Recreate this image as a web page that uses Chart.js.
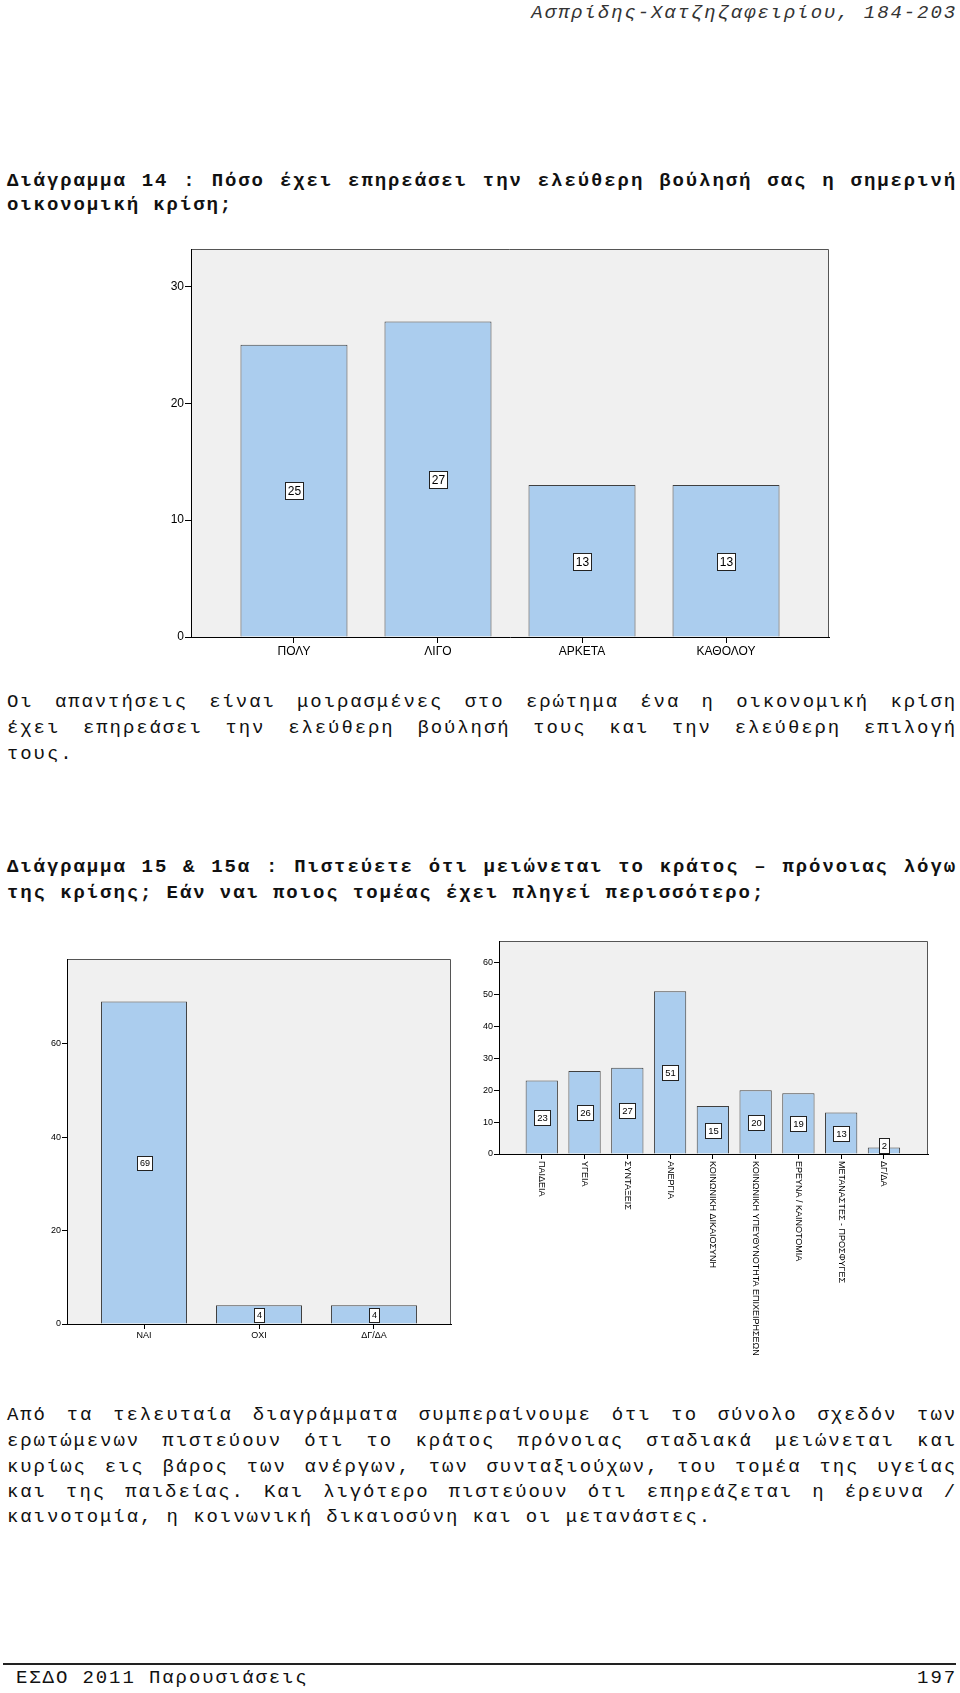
<!DOCTYPE html>
<html>
<head>
<meta charset="utf-8">
<script src="https://cdn.jsdelivr.net/npm/chart.js@4.4.1/dist/chart.umd.min.js"></script>
<style>
html, body { margin: 0; padding: 0; background: #fff; }
#page { position: relative; width: 960px; height: 1693px; overflow: hidden; }
.ln {
    position: absolute; left: 7px; width: 950px; height: 26px; line-height: 26px;
    font-family: "Liberation Mono", monospace; font-size: 19px; letter-spacing: 1.9px;
    color: #111; white-space: nowrap;
}
.j { text-align: justify; text-align-last: justify; white-space: normal; }
.b { font-weight: bold; }
canvas { position: absolute; }
</style>
</head>
<body>
<div id="page">
    <div class="ln" style="top:0;left:auto;right:3px;width:auto;font-style:italic;color:#333">Ασπρίδης-Χατζηζαφειρίου, 184-203</div>

    <div class="ln b j" style="top:168px">Διάγραμμα 14 : Πόσο έχει επηρεάσει την ελεύθερη βούλησή σας η σημερινή</div>
    <div class="ln b" style="top:192px">οικονομική κρίση;</div>

    <canvas id="c14" width="700" height="430" style="left:140px;top:240px"></canvas>

    <div class="ln j" style="top:689px">Οι απαντήσεις είναι μοιρασμένες στο ερώτημα ένα η οικονομική κρίση</div>
    <div class="ln j" style="top:715px">έχει επηρεάσει την ελεύθερη βούλησή τους και την ελεύθερη επιλογή</div>
    <div class="ln" style="top:741px">τους.</div>

    <div class="ln b j" style="top:854px">Διάγραμμα 15 &amp; 15α : Πιστεύετε ότι μειώνεται το κράτος – πρόνοιας λόγω</div>
    <div class="ln b" style="top:880px">της κρίσης; Εάν ναι ποιος τομέας έχει πληγεί περισσότερο;</div>

    <canvas id="c15" width="440" height="410" style="left:20px;top:950px"></canvas>
    <canvas id="c15a" width="490" height="440" style="left:462px;top:930px"></canvas>

    <div class="ln j" style="top:1402px">Από τα τελευταία διαγράμματα συμπεραίνουμε ότι το σύνολο σχεδόν των</div>
    <div class="ln j" style="top:1428px">ερωτώμενων πιστεύουν ότι το κράτος πρόνοιας σταδιακά μειώνεται και</div>
    <div class="ln j" style="top:1454px">κυρίως εις βάρος των ανέργων, των συνταξιούχων, του τομέα της υγείας</div>
    <div class="ln j" style="top:1479px">και της παιδείας. Και λιγότερο πιστεύουν ότι επηρεάζεται η έρευνα /</div>
    <div class="ln" style="top:1504px">καινοτομία, η κοινωνική δικαιοσύνη και οι μετανάστες.</div>

    <div style="position:absolute;left:3px;top:1663px;width:953px;height:2px;background:#222"></div>
    <div class="ln" style="top:1665px;left:16px">ΕΣΔΟ 2011 Παρουσιάσεις</div>
    <div class="ln" style="top:1665px;left:auto;right:3px;width:auto">197</div>
</div>
<script>
// Διάγραμμα 14
const cats14 = ['ΠΟΛΥ', 'ΛΙΓΟ', 'ΑΡΚΕΤΑ', 'ΚΑΘΟΛΟΥ'];
const vals14 = [25, 27, 13, 13];
const ticks14 = [0, 10, 20, 30];

// Διάγραμμα 15
const cats15 = ['ΝΑΙ', 'ΟΧΙ', 'ΔΓ/ΔΑ'];
const vals15 = [69, 4, 4];
const ticks15 = [0, 20, 40, 60];

// Διάγραμμα 15α
const cats15a = ['ΠΑΙΔΕΙΑ', 'ΥΓΕΙΑ', 'ΣΥΝΤΑΞΕΙΣ', 'ΑΝΕΡΓΙΑ', 'ΚΟΙΝΩΝΙΚΗ ΔΙΚΑΙΟΣΥΝΗ',
    'ΚΟΙΝΩΝΙΚΗ ΥΠΕΥΘΥΝΟΤΗΤΑ ΕΠΙΧΕΙΡΗΣΕΩΝ', 'ΕΡΕΥΝΑ / ΚΑΙΝΟΤΟΜΙΑ', 'ΜΕΤΑΝΑΣΤΕΣ - ΠΡΟΣΦΥΓΕΣ', 'ΔΓ/ΔΑ'];
const vals15a = [23, 26, 27, 51, 15, 20, 19, 13, 2];
const ticks15a = [0, 10, 20, 30, 40, 50, 60];

const FONT = '"Liberation Sans", Arial, sans-serif';
Chart.defaults.font.family = FONT;
Chart.defaults.color = '#000';

// grey plot box like SPSS
const framePlugin = {
    id: 'frame',
    beforeDraw(chart) {
        const { ctx, chartArea: a } = chart;
        ctx.save();
        ctx.fillStyle = '#f0f0f0';
        ctx.fillRect(a.left, a.top, a.right - a.left, a.bottom - a.top);
        ctx.strokeStyle = '#555';
        ctx.lineWidth = 1;
        ctx.beginPath();
        ctx.moveTo(a.left, a.top + 0.5);
        ctx.lineTo(a.right - 0.5, a.top + 0.5);
        ctx.lineTo(a.right - 0.5, a.bottom);
        ctx.stroke();
        ctx.restore();
    }
};

// white boxed count in the middle of each bar
const valueBoxes = {
    id: 'valueBoxes',
    afterDatasetsDraw(chart, args, opts) {
        const { ctx } = chart;
        const y = chart.scales.y;
        const zero = y.getPixelForValue(0);
        const data = chart.data.datasets[0].data;
        ctx.save();
        ctx.font = opts.size + 'px ' + FONT;
        ctx.textAlign = 'center';
        ctx.textBaseline = 'middle';
        ctx.lineWidth = 1;
        chart.getDatasetMeta(0).data.forEach((bar, i) => {
            const v = data[i].y;
            const txt = String(v);
            const w = Math.round(ctx.measureText(txt).width) + 5;
            const h = Math.round(opts.size) + 5;
            const cy = Math.min(y.getPixelForValue(v / 2), zero - h / 2 - 1);
            const left = Math.round(bar.x - w / 2) + 0.5;
            const top = Math.round(cy - h / 2) + 0.5;
            ctx.fillStyle = '#fff';
            ctx.fillRect(left, top, w, h);
            ctx.strokeStyle = '#222';
            ctx.strokeRect(left, top, w, h);
            ctx.fillStyle = '#000';
            ctx.fillText(txt, left + w / 2, top + h / 2 + 0.5);
        });
        ctx.restore();
    }
};

// category names written top-to-bottom under the axis
const verticalLabels = {
    id: 'verticalLabels',
    afterDraw(chart, args, opts) {
        if (!opts.labels) return;
        const { ctx } = chart;
        const x = chart.scales.x;
        ctx.save();
        ctx.font = opts.size + 'px ' + FONT;
        ctx.fillStyle = '#000';
        ctx.textAlign = 'left';
        ctx.textBaseline = 'middle';
        opts.labels.forEach((lab, i) => {
            ctx.save();
            ctx.translate(x.getPixelForValue(i), x.top + opts.offset);
            ctx.rotate(Math.PI / 2);
            ctx.fillText(lab, 0, 0);
            ctx.restore();
        });
        ctx.restore();
    }
};

function barChart(id, cats, vals, ticks, s) {
    return new Chart(document.getElementById(id), {
        type: 'bar',
        data: {
            datasets: [{
                data: vals.map((v, i) => ({ x: i, y: v })),
                backgroundColor: '#abcdee',
                borderColor: '#404040',
                borderWidth: 1,
                categoryPercentage: s.bar,
                barPercentage: 1
            }]
        },
        options: {
            responsive: false,
            animation: false,
            devicePixelRatio: 1,
            layout: { padding: { top: s.padTop, right: s.padRight, left: 0, bottom: 0 } },
            plugins: {
                legend: { display: false },
                tooltip: { enabled: false },
                valueBoxes: { size: s.valSize },
                verticalLabels: s.vertical ? { labels: cats, size: s.font, offset: 7 } : {}
            },
            scales: {
                x: {
                    type: 'linear',
                    bounds: 'data',
                    offset: false,
                    min: s.xmin,
                    max: s.xmax,
                    afterBuildTicks: sc => { sc.ticks = cats.map((c, i) => ({ value: i })); },
                    afterFit: sc => { sc.height = s.xh; },
                    grid: { offset: false, drawOnChartArea: false, drawTicks: true, tickLength: s.tick, color: '#000' },
                    border: { color: '#000', width: 1 },
                    ticks: {
                        display: !s.vertical,
                        callback: v => cats[v],
                        font: { size: s.font },
                        color: '#000',
                        padding: 1,
                        maxRotation: 0,
                        autoSkip: false
                    }
                },
                y: {
                    bounds: 'data',
                    min: 0,
                    max: s.ymax,
                    afterBuildTicks: sc => { sc.ticks = ticks.map(v => ({ value: v })); },
                    afterFit: sc => { sc.width = s.yw; },
                    grid: { drawOnChartArea: false, drawTicks: true, tickLength: s.tick, color: '#000' },
                    border: { color: '#000', width: 1 },
                    ticks: { font: { size: s.font }, color: '#000', padding: 1 }
                }
            }
        },
        plugins: [framePlugin, valueBoxes, verticalLabels]
    });
}

barChart('c14', cats14, vals14, ticks14, {
    xmin: -0.715, xmax: 3.715, ymax: 33.2, bar: 0.743,
    yw: 51, xh: 33, padTop: 9, padRight: 11, tick: 6, font: 12, valSize: 12
});
barChart('c15', cats15, vals15, ticks15, {
    xmin: -0.67, xmax: 2.67, ymax: 78.1, bar: 0.748,
    yw: 47, xh: 36, padTop: 9, padRight: 9, tick: 5, font: 9, valSize: 9
});
barChart('c15a', cats15a, vals15a, ticks15a, {
    xmin: -1, xmax: 9.03, ymax: 66.7, bar: 0.755,
    yw: 37, xh: 216, padTop: 11, padRight: 24, tick: 5, font: 9, valSize: 9.5, vertical: true
});
</script>
</body>
</html>
